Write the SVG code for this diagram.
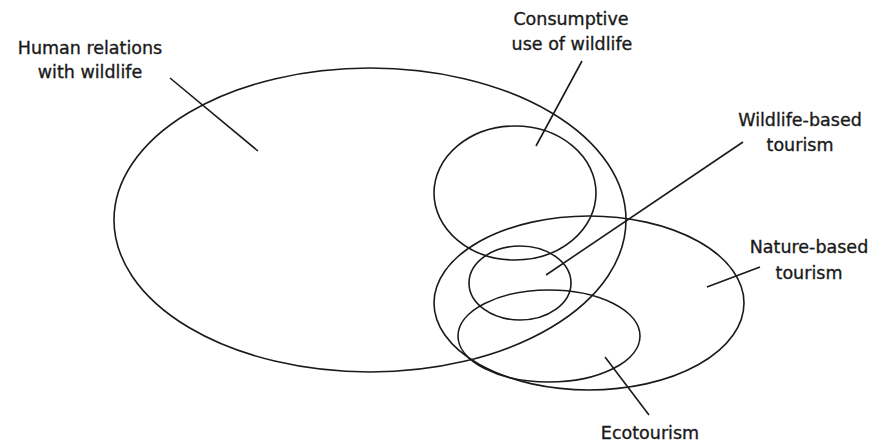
<svg xmlns="http://www.w3.org/2000/svg" width="889" height="445" viewBox="0 0 889 445">
<style>
.s{fill:none;stroke:#1a1a1a;stroke-width:1.6}
.t{font-family:"DejaVu Sans",sans-serif;font-size:17.5px;fill:#1a1a1a;stroke:#1a1a1a;stroke-width:0.35;text-anchor:middle}
</style>
<rect width="889" height="445" fill="#fff"/>
<g id="human"><ellipse class="s" cx="370" cy="220" rx="256" ry="152"/>
<text class="t" x="90" y="54">Human relations</text><text class="t" x="90" y="78">with wildlife</text></g>
<g id="consumptive"><ellipse class="s" cx="515" cy="193" rx="81" ry="67"/>
<text class="t" x="571" y="25">Consumptive</text><text class="t" x="572" y="50">use of wildlife</text></g>
<g id="nature"><ellipse class="s" cx="589" cy="303" rx="155" ry="87"/>
<text class="t" x="809" y="253">Nature-based</text><text class="t" x="809" y="279">tourism</text></g>
<g id="wildlife"><ellipse class="s" cx="520" cy="283" rx="51" ry="37"/>
<text class="t" x="800" y="126">Wildlife-based</text><text class="t" x="800" y="151">tourism</text></g>
<g id="eco"><ellipse class="s" cx="549" cy="336" rx="91" ry="46"/>
<text class="t" x="650" y="439">Ecotourism</text></g>
<g id="connectors">
<line class="s" x1="170" y1="78" x2="258" y2="151"/>
<line class="s" x1="582" y1="61" x2="536" y2="146"/>
<line class="s" x1="743" y1="142" x2="546" y2="275"/>
<line class="s" x1="760" y1="267" x2="707" y2="287"/>
<line class="s" x1="605" y1="357" x2="649" y2="415"/>
</g>
</svg>
